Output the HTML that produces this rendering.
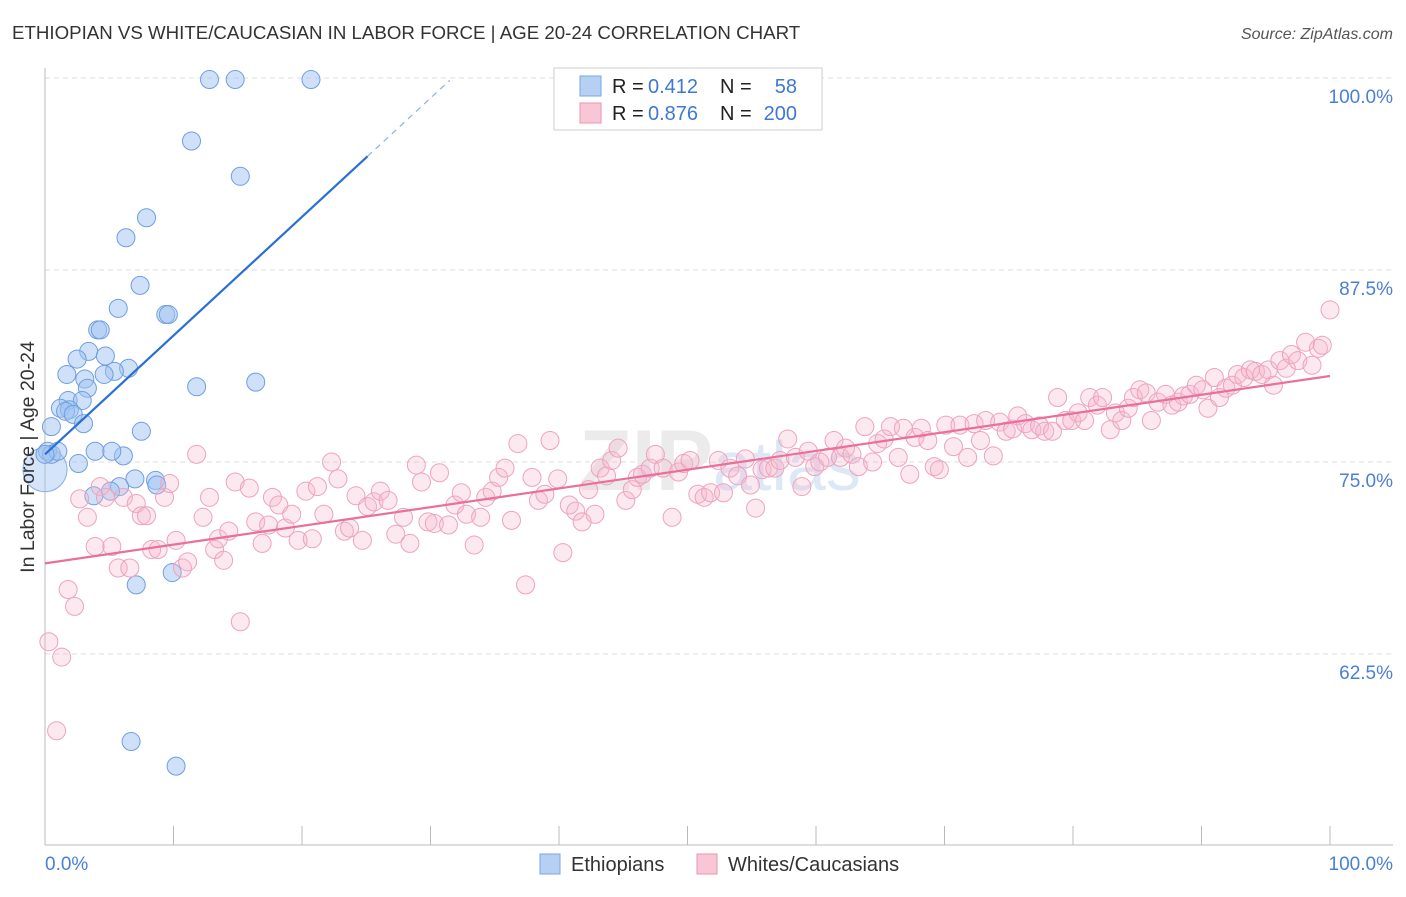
<!DOCTYPE html>
<html><head><meta charset="utf-8"><style>
body{margin:0;background:#fff;font-family:"Liberation Sans",sans-serif;}
svg text{font-family:"Liberation Sans",sans-serif;}
</style></head><body>
<svg id="chart" width="1406" height="892" xmlns="http://www.w3.org/2000/svg">
<text x="12" y="39" font-size="18.7" fill="#333">ETHIOPIAN VS WHITE/CAUCASIAN IN LABOR FORCE | AGE 20-24 CORRELATION CHART</text>
<text x="1393" y="39" font-size="16" fill="#555" font-style="italic" text-anchor="end">Source: ZipAtlas.com</text>
<g id="grid"></g>
<text x="720" y="490" font-size="86" fill="#ebebeb" text-anchor="middle" font-family="Liberation Serif" font-weight="bold">ZIP<tspan fill="#dde8f6" font-family="Liberation Sans" font-weight="normal" font-size="70">atlas</tspan></text>
<g id="axes"></g>
<g id="blue-pts"></g>
<g id="pink-pts"></g>
<g id="lines"></g>
<text transform="translate(34,457) rotate(-90)" font-size="19.5" fill="#333" text-anchor="middle">In Labor Force | Age 20-24</text>
<g>
<rect x="554" y="68" width="268" height="62" fill="#fff" stroke="#ccc"/>
<rect x="580" y="76" width="21" height="20" fill="#b6d0f4" stroke="#7aa6e4"/>
<rect x="580" y="103" width="21" height="20" fill="#f9c6d6" stroke="#ea94b2"/>
<text x="612" y="93" font-size="20" fill="#222">R =</text>
<text x="648" y="93" font-size="20" fill="#3d78d6">0.412</text>
<text x="720" y="93" font-size="20" fill="#222">N =</text>
<text x="797" y="93" font-size="20" fill="#3d78d6" text-anchor="end">58</text>
<text x="612" y="120" font-size="20" fill="#222">R =</text>
<text x="648" y="120" font-size="20" fill="#3d78d6">0.876</text>
<text x="720" y="120" font-size="20" fill="#222">N =</text>
<text x="797" y="120" font-size="20" fill="#3d78d6" text-anchor="end">200</text>
</g>
<g>
<rect x="540" y="854" width="20" height="20" fill="#b6d0f4" stroke="#7aa6e4"/>
<text x="571" y="871" font-size="20" fill="#333">Ethiopians</text>
<rect x="697" y="854" width="20" height="20" fill="#f9c6d6" stroke="#ea94b2"/>
<text x="728" y="871" font-size="20" fill="#333">Whites/Caucasians</text>
</g>
</svg>
<script>
const yTicks=[100,87.5,75,62.5];
const yTickLabels=["100.0%","87.5%","75.0%","62.5%"];
const xTickLabels=["0.0%","100.0%"];
const blueX=[12.8,14.8,20.7,11.4,15.2,7.9,6.3,7.4,5.7,9.4,9.6,4.1,4.3,3.4,4.7,2.5,6.5,5.4,1.7,3.1,4.6,11.8,16.4,3.3,1.8,2.9,1.2,1.9,1.6,2.2,3.0,0.5,7.5,3.9,6.1,5.2,0.2,0.5,1.0,0,2.6,8.6,7.0,5.8,3.8,5.1,8.7,9.9,7.1,6.7,10.2];
const blueY=[99.9,99.9,99.9,95.9,93.6,90.9,89.6,86.5,85.0,84.6,84.6,83.6,83.6,82.2,81.9,81.7,81.1,80.9,80.7,80.4,80.7,79.9,80.2,79.8,79.0,79.0,78.5,78.4,78.3,78.1,77.5,77.3,77.0,75.7,75.4,75.7,75.7,75.5,75.7,75.5,74.9,73.8,73.9,73.4,72.8,73.1,73.5,67.8,67.0,56.8,55.2];
const blueBig=[0,74.5];
const pinkX=[0.3,1.3,0.9,1.8,2.3,2.7,3.3,3.9,4.3,4.7,5.2,5.7,6.1,6.6,7.1,7.5,7.9,8.3,8.8,9.3,9.7,10.2,10.7,11.1,11.8,12.3,12.8,13.2,13.5,13.9,14.3,14.8,15.2,15.9,16.4,16.9,17.4,17.7,18.2,18.7,19.2,19.7,20.3,20.8,21.2,21.7,22.3,22.8,23.3,23.7,24.2,24.7,25.1,25.6,26.1,26.7,27.3,27.9,28.4,28.9,29.3,29.8,30.3,30.7,31.4,31.9,32.4,32.8,33.4,33.9,34.3,34.8,35.3,35.8,36.3,36.8,37.4,37.9,38.4,38.9,39.3,39.9,40.3,40.8,41.3,41.8,42.3,42.8,43.2,43.7,44.1,44.6,45.2,45.7,46.1,46.5,47.1,47.5,48.1,48.8,49.3,49.7,50.2,50.8,51.3,51.8,52.4,52.8,53.3,53.9,54.5,54.9,55.3,55.8,56.3,56.8,57.2,57.8,58.4,58.9,59.4,59.9,60.3,60.9,61.4,61.9,62.3,62.8,63.3,63.8,64.4,64.8,65.3,65.8,66.4,66.8,67.3,67.7,68.2,68.7,69.2,69.6,70.1,70.7,71.2,71.8,72.3,72.8,73.2,73.8,74.3,74.8,75.3,75.7,76.3,76.8,77.4,77.8,78.4,78.8,79.4,79.9,80.4,80.9,81.3,81.9,82.3,82.9,83.3,83.8,84.3,84.7,85.2,85.7,86.1,86.6,87.2,87.7,88.2,88.6,89.1,89.6,90.1,90.5,91.0,91.4,91.9,92.4,92.8,93.3,93.8,94.2,94.7,95.2,95.6,96.1,96.6,97.0,97.5,98.1,98.6,99.1,99.4,100.0];
const pinkY=[63.3,62.3,57.5,66.7,65.6,72.6,71.4,69.5,73.4,72.7,69.5,68.1,72.7,68.1,72.3,71.5,71.5,69.3,69.3,72.7,73.6,69.9,68.1,68.5,75.5,71.4,72.7,69.3,70.0,68.6,70.5,73.7,64.6,73.3,71.1,69.7,70.9,72.7,72.2,70.7,71.6,69.9,73.1,70.0,73.4,71.6,75.0,73.9,70.5,70.7,72.8,69.9,72.1,72.4,73.1,72.5,70.3,71.4,69.7,74.8,73.7,71.1,71.0,74.3,70.9,72.2,73.0,71.6,69.6,71.4,72.7,73.1,74.0,74.6,71.2,76.2,67.0,74.0,72.5,72.9,76.4,73.9,69.1,72.2,71.8,71.1,73.2,71.6,74.6,74.1,75.1,75.9,72.5,73.2,74.0,74.2,74.6,75.5,74.6,71.4,74.35,74.9,75.1,72.9,72.7,73.0,75.1,73.0,74.6,74.1,75.2,73.5,72.0,74.5,74.6,74.6,75.1,76.5,75.3,73.4,75.7,74.7,75.0,75.3,76.4,75.3,75.9,75.5,74.7,77.3,75.0,76.2,76.5,77.3,75.3,77.2,74.2,76.6,77.2,76.4,74.7,74.5,77.4,76.0,77.4,75.3,77.5,76.4,77.7,75.4,77.6,77.0,77.15,78.0,77.5,77.1,77.35,77.0,77.0,79.2,77.7,77.7,78.2,77.7,79.2,78.7,79.2,77.1,78.2,77.7,78.5,79.2,79.7,79.5,77.7,78.9,79.4,78.7,78.9,79.3,79.4,80.0,79.7,78.5,80.5,79.2,79.8,80.0,80.7,80.5,81.0,80.9,80.7,81.0,80.0,81.6,81.1,82.0,81.6,82.8,81.3,82.4,82.6,84.9];
const blueTrend=[75.5,0.773];
const blueSolidEnd=25.1, blueDashEnd=31.5;
const pinkTrend=[68.4,0.122];

const NS="http://www.w3.org/2000/svg";
const X0=45,X1=1330,YTOP=78,PX_PER=15.36;
function sx(v){return X0+(X1-X0)*v/100;}
function sy(v){return YTOP+(100-v)*PX_PER;}
function mk(tag,attrs,parent){const e=document.createElementNS(NS,tag);for(const k in attrs)e.setAttribute(k,attrs[k]);parent.appendChild(e);return e;}
const grid=document.getElementById('grid'),axes=document.getElementById('axes');
yTicks.forEach((t,i)=>{
 const l=mk('line',{x1:45,x2:1393,y1:sy(t),y2:sy(t),stroke:'#dcdcdc','stroke-dasharray':'5,4'},grid);
 
 
 const tx=mk('text',{x:1393,y:sy(t)+25,'font-size':19,fill:'#4a7fd6','text-anchor':'end'},axes);
 tx.textContent=yTickLabels[i];
 
 
});
const ax1=mk('line',{x1:45,x2:45,y1:68,y2:845,stroke:'#bbb'},axes);


const ax2=mk('line',{x1:45,x2:1393,y1:845,y2:845,stroke:'#bbb'},axes);


for(let k=1;k<=10;k++){
 const t=mk('line',{x1:sx(k*10),x2:sx(k*10),y1:826,y2:845,stroke:'#bbb'},axes);
 
 
}
const xl0=mk('text',{x:45,y:870,'font-size':19,fill:'#4a7fd6'},axes);
xl0.textContent=xTickLabels[0];


const xl1=mk('text',{x:1393,y:870,'font-size':19,fill:'#4a7fd6','text-anchor':'end'},axes);
xl1.textContent=xTickLabels[1];



const bg=document.getElementById('blue-pts'),pg=document.getElementById('pink-pts');
pinkX.forEach((v,i)=>{
 const c=mk('circle',{cx:sx(v),cy:sy(pinkY[i]),r:9,fill:'rgba(246,182,204,0.32)',stroke:'#eea3be','stroke-width':1},pg);
 
 
});
const big=mk('circle',{cx:sx(blueBig[0]),cy:sy(blueBig[1]),r:22,fill:'rgba(160,196,242,0.45)',stroke:'#8ab0e8','stroke-width':1},bg);


blueX.forEach((v,i)=>{
 const c=mk('circle',{cx:sx(v),cy:sy(blueY[i]),r:9,fill:'rgba(160,196,242,0.5)',stroke:'#6f9ee0','stroke-width':1},bg);
 
 
});
const lg=document.getElementById('lines');
const b1=mk('line',{x1:sx(0),y1:sy(blueTrend[0]),x2:sx(blueSolidEnd),y2:sy(blueTrend[0]+blueTrend[1]*blueSolidEnd),stroke:'#2a6fd6','stroke-width':2.2},lg);


const b2=mk('line',{x1:sx(blueSolidEnd),y1:sy(blueTrend[0]+blueTrend[1]*blueSolidEnd),x2:sx(blueDashEnd),y2:sy(blueTrend[0]+blueTrend[1]*blueDashEnd),stroke:'#8ab0e8','stroke-width':1.2,'stroke-dasharray':'6,5'},lg);


const p1=mk('line',{x1:sx(0),y1:sy(pinkTrend[0]),x2:sx(100),y2:sy(pinkTrend[0]+pinkTrend[1]*100),stroke:'#e8709a','stroke-width':2.2},lg);


</script>
</body></html>
